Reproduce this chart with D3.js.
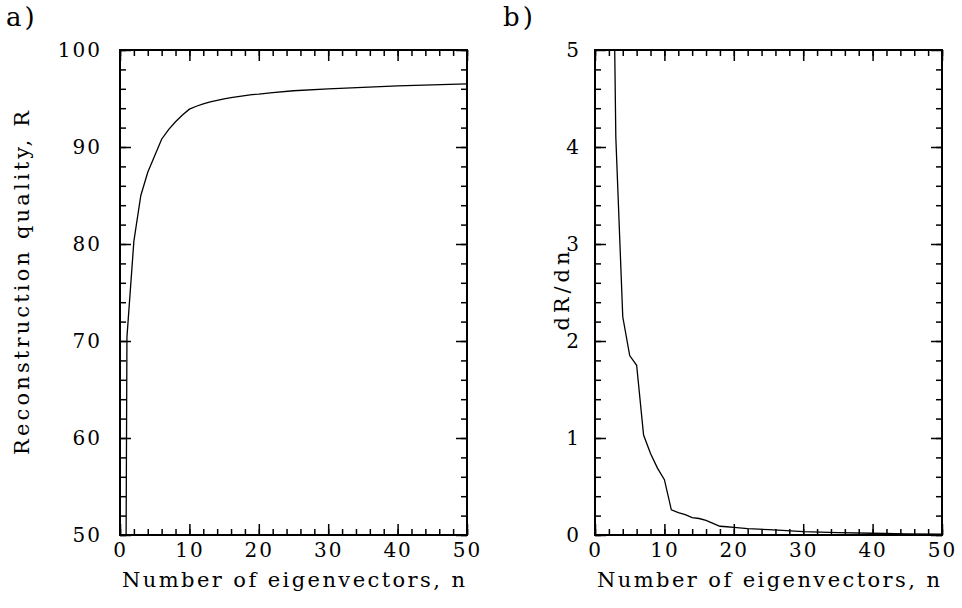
<!DOCTYPE html>
<html>
<head>
<meta charset="utf-8">
<script src="https://cdn.jsdelivr.net/npm/d3@7"></script>
<style>
  body { margin: 0; background: #fff; }
  text { font-family: "DejaVu Serif", serif; fill: #000; }
</style>
</head>
<body>
<div id="chart"></div>
<script>
var width = 962
var height = 608

// panel a) reconstruction quality vs number of eigenvectors
var nA = [0, 1, 2, 3, 4, 5, 6, 7, 8, 9, 10, 11, 12, 13, 14, 15, 16, 17, 18, 19, 20, 22, 25, 30, 35, 40, 45, 50]
var quality = [-100, 70.4, 80.3, 85.0, 87.4, 89.1, 90.8, 91.8, 92.6, 93.3, 93.9, 94.2, 94.45, 94.65, 94.8,
    94.95, 95.1, 95.2, 95.3, 95.4, 95.45, 95.6, 95.8, 96.0, 96.15, 96.3, 96.4, 96.5]

// panel b) dR/dn
var nB = [2, 3, 4, 5, 6, 7, 8, 9, 10, 11, 12, 13, 14, 15, 16, 17, 18, 19, 20, 22, 25, 27, 30, 35, 40, 45, 50]
var dRdn = [9.8, 4.1, 2.25, 1.85, 1.75, 1.03, 0.84, 0.69, 0.57, 0.26, 0.23, 0.21, 0.18, 0.17, 0.15, 0.12,
    0.09, 0.085, 0.078, 0.065, 0.055, 0.048, 0.035, 0.025, 0.018, 0.012, 0.008]

var xTicks = [0, 10, 20, 30, 40, 50]
var xMinor = d3.range(0, 51, 2)
var yTicksA = [50, 60, 70, 80, 90, 100]
var yMinorA = d3.range(50, 101, 2)
var yTicksB = [0, 1, 2, 3, 4, 5]
var yMinorB = d3.range(0, 25).map(function (d) { return d * 0.2 })

var svg = d3.select('#chart')
    .append('svg')
    .attr('width', width)
    .attr('height', height)

function drawPanel(opt) {
    var x = d3.scaleLinear().domain([0, 50]).range([opt.left, opt.right])
    var y = d3.scaleLinear().domain(opt.yDomain).range([opt.bottom, opt.top])
    var fmt = d3.format('d')
    var g = svg.append('g')

    g.append('clipPath').attr('id', opt.id)
        .append('rect')
        .attr('x', opt.left).attr('y', opt.top)
        .attr('width', opt.right - opt.left).attr('height', opt.bottom - opt.top)

    // major and minor ticks on all four sides, pointing inward
    var specs = [
        [d3.axisBottom(x).tickValues(xMinor).tickSize(-6).tickFormat(''), 'translate(0,' + opt.bottom + ')'],
        [d3.axisTop(x).tickValues(xMinor).tickSize(-6).tickFormat(''), 'translate(0,' + opt.top + ')'],
        [d3.axisLeft(y).tickValues(opt.yMinor).tickSize(-6).tickFormat(''), 'translate(' + opt.left + ',0)'],
        [d3.axisRight(y).tickValues(opt.yMinor).tickSize(-6).tickFormat(''), 'translate(' + opt.right + ',0)'],
        [d3.axisBottom(x).tickValues(xTicks).tickSize(-11).tickPadding(8).tickFormat(fmt), 'translate(0,' + opt.bottom + ')'],
        [d3.axisTop(x).tickValues(xTicks).tickSize(-11).tickFormat(''), 'translate(0,' + opt.top + ')'],
        [d3.axisLeft(y).tickValues(opt.yTicks).tickSize(-11).tickPadding(opt.yPad).tickFormat(fmt), 'translate(' + opt.left + ',0)'],
        [d3.axisRight(y).tickValues(opt.yTicks).tickSize(-11).tickFormat(''), 'translate(' + opt.right + ',0)']
    ]
    specs.forEach(function (s) {
        var a = g.append('g').attr('transform', s[1]).call(s[0])
        a.attr('font-family', null).attr('font-size', null)
        a.select('.domain').remove()
        a.selectAll('line').attr('stroke', '#000').attr('stroke-width', 1.5)
        a.selectAll('text')
            .style('font-size', '20px')
            .style('letter-spacing', '2px')
    })

    g.append('rect')
        .attr('x', opt.left).attr('y', opt.top)
        .attr('width', opt.right - opt.left).attr('height', opt.bottom - opt.top)
        .attr('fill', 'none')
        .attr('stroke', '#000')
        .attr('stroke-width', 2)

    var line = d3.line()
        .x(function (d) { return x(d[0]) })
        .y(function (d) { return y(d[1]) })

    g.append('path')
        .datum(d3.zip(opt.xs, opt.ys))
        .attr('clip-path', 'url(#' + opt.id + ')')
        .attr('d', line)
        .attr('fill', 'none')
        .attr('stroke', '#000')
        .attr('stroke-width', 1.3)

    g.append('text')
        .attr('x', (opt.left + opt.right) / 2)
        .attr('y', 587)
        .attr('text-anchor', 'middle')
        .attr('textLength', 343)
        .attr('lengthAdjust', 'spacing')
        .style('font-size', '21px')
        .text('Number of eigenvectors, n')

    g.append('text')
        .attr('transform', 'translate(' + opt.yLabelX + ',' + opt.yLabelY + ') rotate(-90)')
        .attr('text-anchor', 'middle')
        .attr('textLength', opt.yLabelLen)
        .attr('lengthAdjust', 'spacing')
        .style('font-size', '21px')
        .text(opt.yLabel)

    g.append('text')
        .attr('x', opt.tagX)
        .attr('y', 26)
        .style('font-size', '26px')
        .style('letter-spacing', '3px')
        .text(opt.tag)
}

drawPanel({
    id: 'clipA', left: 120, right: 467, top: 50, bottom: 535,
    yDomain: [50, 100], yTicks: yTicksA, yMinor: yMinorA, yPad: 18,
    xs: nA, ys: quality,
    yLabel: 'Reconstruction quality, R', yLabelX: 29, yLabelY: 283, yLabelLen: 344,
    tag: 'a)', tagX: 6
})

drawPanel({
    id: 'clipB', left: 595, right: 942, top: 50, bottom: 535,
    yDomain: [0, 5], yTicks: yTicksB, yMinor: yMinorB, yPad: 14,
    xs: nB, ys: dRdn,
    yLabel: 'dR/dn', yLabelX: 569, yLabelY: 291, yLabelLen: 79,
    tag: 'b)', tagX: 503
})
</script>
</body>
</html>
